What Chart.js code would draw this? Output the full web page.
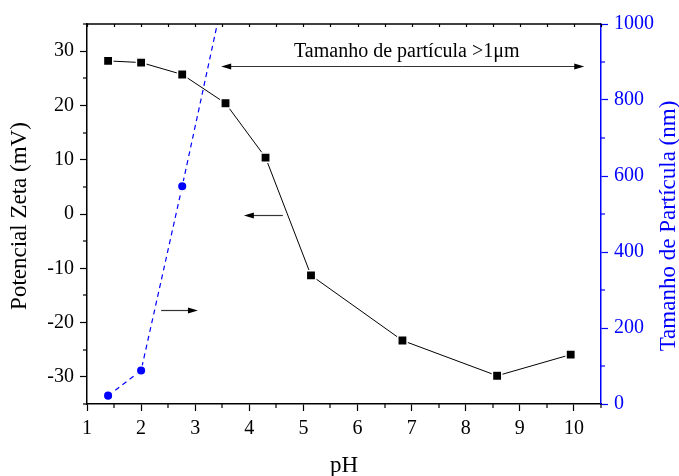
<!DOCTYPE html>
<html><head><meta charset="utf-8">
<script src="https://cdn.jsdelivr.net/npm/chart.js@4/dist/chart.umd.min.js"></script>
<style>html,body{margin:0;padding:0;background:#fff}canvas{display:block}</style>
</head><body>
<canvas id="c" width="679" height="476"></canvas>
<script>
// Zeta potential series (left axis)
const pHZeta = [1.39, 2.00, 2.76, 3.56, 4.30, 5.14, 6.83, 8.58, 9.94];
const zeta   = [28.2, 27.9, 25.7, 20.4, 10.4, -11.3, -23.3, -29.8, -25.9];
// Particle size series (right axis); last point is off-scale (>1 µm)
const pHSize = [1.39, 2.00, 2.76, 3.56];
const sizeNm = [22, 88, 573, 1100];
// Tick labels
const xTicks    = [1, 2, 3, 4, 5, 6, 7, 8, 9, 10];
const zetaTicks = [-30, -20, -10, 0, 10, 20, 30];
const sizeTicks = [0, 200, 400, 600, 800, 1000];
const xMinor    = [1.5, 2.5, 3.5, 4.5, 5.5, 6.5, 7.5, 8.5, 9.5, 10.5];
const zetaMinor = [-35, -25, -15, -5, 5, 15, 25, 35];
const sizeMinor = [100, 300, 500, 700, 900];
// Text
const xTitle = 'pH';
const yTitle = 'Potencial Zeta (mV)';
const y1Title = 'Tamanho de Partícula (nm)';
const noteText = 'Tamanho de partícula >1μm';

const SERIF = '"Liberation Serif", "Times New Roman", serif';
const BLUE = '#0000ff';

function arrow(ctx, x1, y1, x2, y2, lineColor, headColor) {
  const ang = Math.atan2(y2 - y1, x2 - x1);
  const L = 10, W = 3;
  ctx.strokeStyle = lineColor; ctx.lineWidth = 1.2;
  ctx.beginPath(); ctx.moveTo(x1, y1);
  ctx.lineTo(x2 - Math.cos(ang) * (L - 1), y2 - Math.sin(ang) * (L - 1)); ctx.stroke();
  ctx.fillStyle = headColor;
  ctx.beginPath();
  ctx.moveTo(x2, y2);
  ctx.lineTo(x2 - L * Math.cos(ang) + W * Math.sin(ang), y2 - L * Math.sin(ang) - W * Math.cos(ang));
  ctx.lineTo(x2 - L * Math.cos(ang) - W * Math.sin(ang), y2 - L * Math.sin(ang) + W * Math.cos(ang));
  ctx.closePath(); ctx.fill();
}

const decor = {
  id: 'decor',
  afterDraw(chart) {
    const ctx = chart.ctx, ca = chart.chartArea;
    const xs = chart.scales.x, ys = chart.scales.y, y1s = chart.scales.y1;
    ctx.save();
    // top frame line with inward ticks
    ctx.strokeStyle = '#000'; ctx.lineWidth = 1.5;
    ctx.beginPath(); ctx.moveTo(ca.left, ca.top); ctx.lineTo(ca.right, ca.top); ctx.stroke();
    ctx.lineWidth = 1.2;
    [...xTicks, ...xMinor].forEach(v => {
      const px = Math.round(xs.getPixelForValue(v)) + 0.5;
      ctx.beginPath(); ctx.moveTo(px, ca.top); ctx.lineTo(px, ca.top + 3); ctx.stroke();
    });
    // minor ticks bottom
    xMinor.forEach(v => {
      const px = Math.round(xs.getPixelForValue(v));
      ctx.beginPath(); ctx.moveTo(px, ca.bottom); ctx.lineTo(px, ca.bottom + 4); ctx.stroke();
    });
    // minor ticks left
    zetaMinor.forEach(v => {
      const py = Math.round(ys.getPixelForValue(v));
      ctx.beginPath(); ctx.moveTo(ca.left, py); ctx.lineTo(ca.left - 4, py); ctx.stroke();
    });
    // minor ticks right
    ctx.strokeStyle = BLUE;
    sizeMinor.forEach(v => {
      const py = Math.round(y1s.getPixelForValue(v));
      ctx.beginPath(); ctx.moveTo(ca.right, py); ctx.lineTo(ca.right + 4, py); ctx.stroke();
    });
    // annotation text
    ctx.fillStyle = '#000';
    ctx.font = '20px ' + SERIF;
    ctx.textAlign = 'center'; ctx.textBaseline = 'alphabetic';
    ctx.fillText(noteText, xs.getPixelForValue(6.91), ys.getPixelForValue(28.9));
    // double arrow
    const ay = Math.round(ys.getPixelForValue(27.26)) + 0.5;
    const axL = xs.getPixelForValue(3.48), axR = xs.getPixelForValue(10.19);
    const mid = (axL + axR) / 2;
    arrow(ctx, mid, ay, axL, ay, '#333', '#000');
    arrow(ctx, mid, ay, axR, ay, '#333', '#000');
    // left-pointing arrow (zeta -> left axis)
    const ly = Math.round(ys.getPixelForValue(-0.21)) + 0.5;
    arrow(ctx, xs.getPixelForValue(4.62), ly, xs.getPixelForValue(3.90), ly, '#333', '#000');
    // right-pointing arrow (size -> right axis)
    const ry = Math.round(ys.getPixelForValue(-17.73)) + 0.5;
    arrow(ctx, xs.getPixelForValue(2.37), ry, xs.getPixelForValue(3.05), ry, '#333', '#000');
    // axis titles
    ctx.font = '23px ' + SERIF;
    ctx.textBaseline = 'middle';
    ctx.fillStyle = '#000';
    ctx.fillText(xTitle, (ca.left + ca.right) / 2, 466);
    ctx.save(); ctx.translate(20, 216); ctx.rotate(-Math.PI / 2);
    ctx.fillText(yTitle, 0, 0); ctx.restore();
    ctx.fillStyle = BLUE;
    ctx.save(); ctx.translate(669, 226); ctx.rotate(-Math.PI / 2);
    ctx.fillText(y1Title, 0, 0); ctx.restore();
    ctx.restore();
  }
};

const plainLabel = v => String(v);

new Chart(document.getElementById('c'), {
  type: 'line',
  data: {
    datasets: [
      {
        label: 'Potencial Zeta',
        data: pHZeta.map((x, i) => ({ x, y: zeta[i] })),
        yAxisID: 'y',
        borderColor: '#000', borderWidth: 1,
        pointStyle: 'rect', pointRadius: 6.6,
        pointBackgroundColor: '#000', pointBorderColor: '#fff', pointBorderWidth: 1.5,
        tension: 0
      },
      {
        label: 'Tamanho de Partícula',
        data: pHSize.map((x, i) => ({ x, y: sizeNm[i] })),
        yAxisID: 'y1',
        borderColor: BLUE, borderWidth: 1.2, borderDash: [5, 4],
        pointStyle: 'circle', pointRadius: 4.8,
        pointBackgroundColor: BLUE, pointBorderColor: '#fff', pointBorderWidth: 1.5,
        tension: 0
      }
    ]
  },
  options: {
    responsive: false, animation: false, devicePixelRatio: 1,
    layout: { padding: { top: 24, left: 0, right: 0, bottom: 0 } },
    plugins: { legend: { display: false }, tooltip: { enabled: false } },
    scales: {
      x: {
        type: 'linear', position: 'bottom', min: 1, max: 10.5,
        afterBuildTicks(s) { s.ticks = xTicks.map(v => ({ value: v })); },
        afterFit(s) { s.height = 72; },
        grid: { display: true, drawOnChartArea: false, tickLength: 7, tickColor: '#000', tickWidth: 1.2 },
        border: { display: true, color: '#000', width: 1.5 },
        ticks: { color: '#000', font: { family: SERIF, size: 20 }, padding: 6, maxRotation: 0, callback: plainLabel }
      },
      y: {
        type: 'linear', position: 'left', min: -35, max: 35,
        afterBuildTicks(s) { s.ticks = zetaTicks.map(v => ({ value: v })); },
        afterFit(s) { s.width = 87; },
        grid: { display: true, drawOnChartArea: false, tickLength: 7, tickColor: '#000', tickWidth: 1.2 },
        border: { display: true, color: '#000', width: 1.5 },
        ticks: { color: '#000', font: { family: SERIF, size: 20 }, padding: 6, callback: plainLabel }
      },
      y1: {
        type: 'linear', position: 'right', min: 0, max: 1000,
        afterBuildTicks(s) { s.ticks = sizeTicks.map(v => ({ value: v })); },
        afterFit(s) { s.width = 78; },
        grid: { display: true, drawOnChartArea: false, tickLength: 7, tickColor: BLUE, tickWidth: 1.2 },
        border: { display: true, color: BLUE, width: 1.5 },
        ticks: { color: BLUE, font: { family: SERIF, size: 20 }, padding: 6, callback: plainLabel }
      }
    }
  },
  plugins: [decor]
});
</script>
</body></html>
